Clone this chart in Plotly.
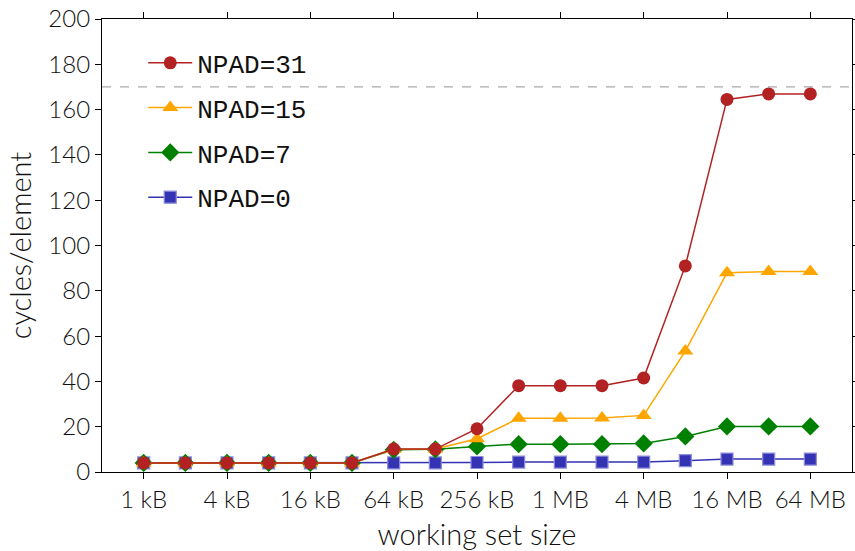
import plotly.graph_objects as go

# Working set sizes: 2^10 .. 2^26 bytes
sizes = [2 ** k for k in range(10, 27)]

npad0 = [4.0, 4.0, 4.0, 4.0, 4.0, 4.0, 4.0, 4.0, 4.2, 4.4, 4.4, 4.4, 4.4, 5.0, 5.7, 5.7, 5.7]
npad7 = [4.0, 4.0, 4.0, 4.0, 4.0, 4.0, 9.8, 10.0, 11.3, 12.3, 12.3, 12.3, 12.6, 15.7, 20.1, 20.1, 20.1]
npad15 = [4.0, 4.0, 4.0, 4.0, 4.0, 4.0, 10.0, 10.2, 14.7, 23.7, 23.7, 23.8, 25.0, 53.4, 88.0, 88.5, 88.5]
npad31 = [4.0, 4.0, 4.0, 4.0, 4.0, 4.0, 10.1, 10.1, 19.1, 38.1, 38.1, 38.1, 41.5, 91.0, 164.5, 166.9, 166.9]

tick_vals = [2 ** k for k in range(10, 27, 2)]
tick_text = ["1 kB", "4 kB", "16 kB", "64 kB", "256 kB", "1 MB", "4 MB", "16 MB", "64 MB"]

reference_level = 170

series = [
    ("NPAD=0", npad0, "#3333b3", "square", 12, 4),
    ("NPAD=7", npad7, "#008000", "diamond", 14, 3),
    ("NPAD=15", npad15, "#ffa500", "triangle-up", 14, 2),
    ("NPAD=31", npad31, "#b22222", "circle", 13, 1),
]

fig = go.Figure()

for name, vals, color, symbol, msize, rank in series:
    border = dict(width=1.2, color="#8c8cdc") if symbol == "square" else dict(width=0)
    fig.add_trace(go.Scatter(
        x=sizes, y=vals, name=name, mode="lines+markers",
        line=dict(color=color, width=1.5),
        marker=dict(symbol=symbol, size=msize, color=color, line=border),
        legendrank=rank, legendgroup=name,
    ))

# Horizontal dashed reference line across the plot
fig.add_shape(type="line", xref="paper", x0=0, x1=1, yref="y",
              y0=reference_level, y1=reference_level,
              line=dict(color="#aaaaaa", width=1.3, dash="dash"), layer="below")

font_main = "Lato, 'Open Sans', sans-serif"

fig.update_layout(
    width=855, height=551,
    margin=dict(l=102, r=3, t=19, b=79),
    plot_bgcolor="white", paper_bgcolor="white",
    font=dict(family=font_main, size=24, color="#111111", weight=300),
    showlegend=True,
    legend=dict(
        x=0.055, y=0.955, xanchor="left", yanchor="top",
        bgcolor="rgba(0,0,0,0)",
        font=dict(family="'Liberation Mono', monospace", size=26, color="#111111", weight=400),
        itemwidth=44, tracegroupgap=8,
        traceorder="grouped",
    ),
    xaxis=dict(
        type="log",
        range=[9 * 0.30103, 27 * 0.30103],
        tickvals=tick_vals, ticktext=tick_text,
        showgrid=False, zeroline=False,
        showline=True, linecolor="black", linewidth=1.2, mirror="ticks",
        ticks="outside", ticklen=6, tickcolor="black", tickwidth=1,
        title=dict(text="working set size", standoff=18),
        automargin=False,
    ),
    yaxis=dict(
        range=[0, 200], dtick=20,
        showgrid=False, zeroline=False,
        showline=True, linecolor="black", linewidth=1.2, mirror="ticks",
        ticks="outside", ticklen=6, tickcolor="black", tickwidth=1,
        title=dict(text="cycles/element", standoff=8),
        automargin=False,
    ),
)

fig.write_html("out.html")
